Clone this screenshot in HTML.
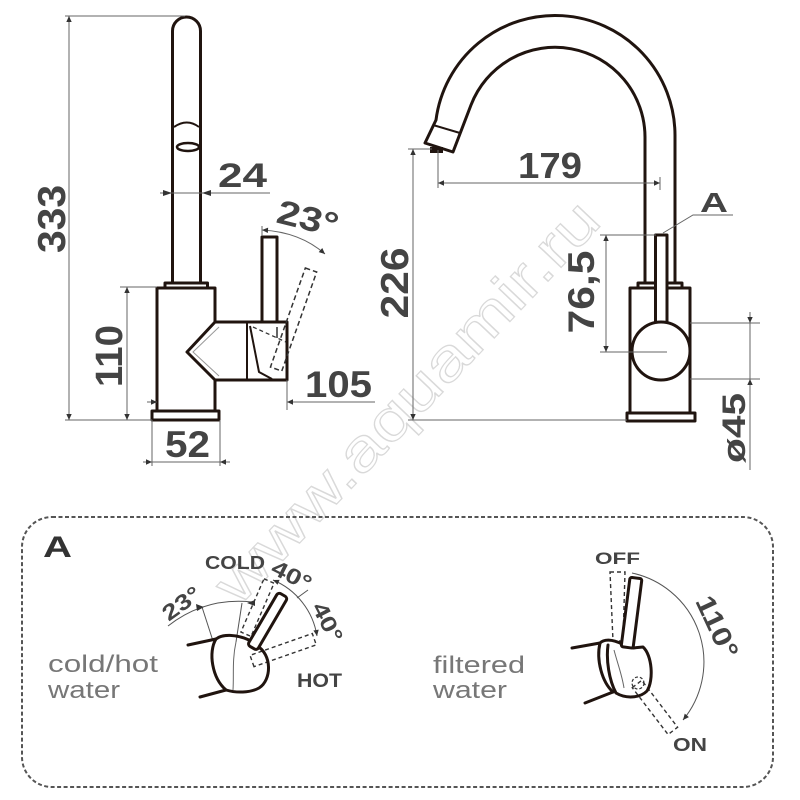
<!DOCTYPE html>
<html><head><meta charset="utf-8"><style>
html,body{margin:0;padding:0;background:#fff;}
svg{display:block;}
text{font-family:"Liberation Sans",sans-serif;}
</style></head><body>
<svg width="800" height="800" viewBox="0 0 800 800" xmlns="http://www.w3.org/2000/svg">
<defs>
<marker id="a" viewBox="0 0 10 10" refX="10" refY="5" markerWidth="9" markerHeight="6" orient="auto-start-reverse" markerUnits="userSpaceOnUse"><path d="M0,0.5 L10,5 L0,9.5z" fill="#333"/></marker>
</defs>
<rect width="800" height="800" fill="#fff"/>

<!-- watermark -->
<text transform="translate(410,405) rotate(-46.5)" text-anchor="middle" y="15" font-size="58" fill="none" stroke="#d9d9d9" stroke-width="1.2" textLength="530" lengthAdjust="spacingAndGlyphs">www.aquamir.ru</text>

<!-- ============ LEFT FAUCET ============ -->
<g fill="none" stroke="#20140f" stroke-width="3" stroke-linejoin="round">
 <path d="M172.5,283 V31 A14,14 0 0 1 200.5,31 V283"/>
 <path d="M165,288 V283 H207.5 V288"/>
 <path d="M157,411 V288 H215 V322 H287 V380 H215 V411"/>
 <rect x="152" y="411" width="67" height="9" fill="#fff"/>
 <rect x="262" y="237" width="15" height="85" fill="#fff"/>
 <path d="M215,322 L187,352 L215,380"/>
 <path d="M247,322 V380" stroke-width="2"/>
 <path d="M250,326 L259,372 L272,379" stroke-width="2"/>
 <path d="M174,127 Q187,118 199,127" stroke-width="2"/>
 <ellipse cx="188" cy="147" rx="11" ry="4" stroke-width="2.5"/>
</g>
<path d="M219,327 L193,352 L219,376" fill="none" stroke="#999" stroke-width="1"/>
<path d="M253,327 L286,342" fill="none" stroke="#333" stroke-width="1.3" stroke-dasharray="4 3"/>
<path d="M277,327 V338" stroke="#333" stroke-width="1.5"/>
<rect x="-6" y="0" width="12" height="105" transform="translate(311,270) rotate(19.4)" fill="none" stroke="#333" stroke-width="1.5" stroke-dasharray="5 3"/>

<!-- left dims -->
<g stroke="#666" stroke-width="1" fill="none">
 <line x1="65" y1="16" x2="185" y2="16"/>
 <line x1="65" y1="420" x2="152" y2="420"/>
 <line x1="69" y1="16" x2="69" y2="420" marker-start="url(#a)" marker-end="url(#a)"/>
 <line x1="120" y1="287" x2="157" y2="287"/>
 <line x1="127" y1="287" x2="127" y2="420" marker-start="url(#a)" marker-end="url(#a)"/>
 <line x1="160" y1="193" x2="270" y2="193"/>
 <line x1="147" y1="402" x2="157" y2="402" marker-end="url(#a)"/>
 <line x1="375" y1="402" x2="287" y2="402" marker-end="url(#a)"/>
 <line x1="287" y1="380" x2="287" y2="410"/>
 <line x1="152" y1="420" x2="152" y2="466"/>
 <line x1="220" y1="420" x2="220" y2="466"/>
 <line x1="143" y1="462" x2="152" y2="462" marker-end="url(#a)"/>
 <line x1="230" y1="462" x2="220" y2="462" marker-end="url(#a)"/>
 <line x1="152" y1="462" x2="220" y2="462"/>
 <path d="M262,230 Q300,232 325,254" marker-start="url(#a)" marker-end="url(#a)"/>
 <line x1="262" y1="226" x2="262" y2="236"/>
</g>
<polygon points="163,190 172,193 163,196" fill="#333"/>
<polygon points="211,190 202,193 211,196" fill="#333"/>

<g font-weight="bold" fill="#444">
 <text transform="translate(65,219) rotate(-90)" text-anchor="middle" font-size="39" textLength="68" lengthAdjust="spacingAndGlyphs">333</text>
 <text transform="translate(122,356) rotate(-90)" text-anchor="middle" font-size="38" textLength="62" lengthAdjust="spacingAndGlyphs">110</text>
 <text x="218" y="187" font-size="34" textLength="49" lengthAdjust="spacingAndGlyphs">24</text>
 <text x="305" y="397" font-size="37" textLength="67" lengthAdjust="spacingAndGlyphs">105</text>
 <text x="165" y="457" font-size="37" textLength="45" lengthAdjust="spacingAndGlyphs">52</text>
 <text transform="translate(308,218) rotate(14)" text-anchor="middle" y="12" font-size="34" textLength="62" lengthAdjust="spacingAndGlyphs">23°</text>
</g>

<!-- ============ RIGHT FAUCET ============ -->
<g fill="none" stroke="#20140f" stroke-width="3" stroke-linejoin="round">
 <path d="M675,284 V135 A120,120 0 0 0 436,120 L425,143 L453,152 L471,105 A90,90 0 0 1 645,137 V284"/>
 <path d="M638,288 V283 H682 V288"/>
 <rect x="630" y="288" width="60" height="125" fill="#fff"/>
 <rect x="627" y="413" width="68" height="8" fill="#fff"/>
 <rect x="655.5" y="235" width="11.5" height="88" fill="#fff"/>
 <circle cx="661" cy="351" r="29" fill="#fff"/>
 <path d="M433,125 L460,133" stroke-width="2"/>
</g>
<rect x="430" y="147" width="13" height="6" fill="#20140f"/>

<g stroke="#666" stroke-width="1" fill="none">
 <line x1="408" y1="149" x2="432" y2="149"/>
 <line x1="408" y1="420" x2="627" y2="420"/>
 <line x1="413" y1="149" x2="413" y2="420" marker-start="url(#a)" marker-end="url(#a)"/>
 <line x1="438" y1="150" x2="438" y2="188"/>
 <line x1="438" y1="183" x2="660" y2="183" marker-start="url(#a)" marker-end="url(#a)"/>
 <line x1="660" y1="177" x2="660" y2="190"/>
 <polyline points="663,233 693,215 733,215"/>
 <line x1="600" y1="235" x2="656" y2="235"/>
 <line x1="600" y1="352" x2="667" y2="352"/>
 <line x1="606" y1="235" x2="606" y2="352" marker-start="url(#a)" marker-end="url(#a)"/>
 <line x1="690" y1="323" x2="760" y2="323"/>
 <line x1="690" y1="379" x2="760" y2="379"/>
 <line x1="750" y1="312" x2="750" y2="323" marker-end="url(#a)"/>
 <line x1="750" y1="470" x2="750" y2="379" marker-end="url(#a)"/>
 <line x1="750" y1="323" x2="750" y2="379"/>
</g>

<g font-weight="bold" fill="#444">
 <text transform="translate(408,283) rotate(-90)" text-anchor="middle" font-size="39" textLength="71" lengthAdjust="spacingAndGlyphs">226</text>
 <text x="518" y="178" font-size="36" textLength="64" lengthAdjust="spacingAndGlyphs">179</text>
 <text x="700" y="212" font-size="28" textLength="28" lengthAdjust="spacingAndGlyphs">A</text>
 <text transform="translate(594,292) rotate(-90)" text-anchor="middle" font-size="37" textLength="83" lengthAdjust="spacingAndGlyphs">76,5</text>
 <text transform="translate(745,428) rotate(-90)" text-anchor="middle" font-size="32" textLength="70" lengthAdjust="spacingAndGlyphs">ø45</text>
</g>

<!-- ============ PANEL A ============ -->
<rect x="22" y="517" width="751" height="270" rx="30" ry="30" fill="none" stroke="#555" stroke-width="2" stroke-dasharray="4 2.5"/>

<text x="43" y="557" font-size="30" font-weight="bold" fill="#333" textLength="29" lengthAdjust="spacingAndGlyphs">A</text>

<g fill="#777" font-size="24">
 <text x="48" y="672" textLength="110" lengthAdjust="spacingAndGlyphs">cold/hot</text>
 <text x="48" y="698" textLength="72" lengthAdjust="spacingAndGlyphs">water</text>
 <text x="433" y="673" textLength="92" lengthAdjust="spacingAndGlyphs">filtered</text>
 <text x="433" y="698" textLength="74" lengthAdjust="spacingAndGlyphs">water</text>
</g>

<!-- left mixer detail -->
<g fill="none" stroke="#555" stroke-width="1">
 <path d="M168,626 Q205,597 252,602"/>
 <line x1="202" y1="607" x2="213" y2="641"/>
 <line x1="242" y1="603" x2="236" y2="642"/>
 <path d="M273,580 A73,73 0 0 1 317,636" marker-start="url(#a)" marker-end="url(#a)"/>
 <line x1="297" y1="598" x2="308" y2="590"/>
</g>
<polygon points="196,604 204,607 197,611" fill="#333"/>
<polygon points="255,600 247,603 255,606" fill="#333"/>
<rect x="-5.5" y="0" width="11" height="58" transform="translate(269,581) rotate(23.4)" fill="none" stroke="#333" stroke-width="1.4" stroke-dasharray="4 3"/>
<rect x="-6" y="0" width="12" height="66" transform="translate(252,661) rotate(-109.3)" fill="none" stroke="#333" stroke-width="1.4" stroke-dasharray="4 3"/>
<g fill="none" stroke="#20140f" stroke-width="3" stroke-linejoin="round" stroke-linecap="round">
 <path d="M188,645 L216,639"/>
 <path d="M200,697 L226,690"/>
 <path d="M216,639 C208,652 212,678 226,690"/>
 <path d="M216,639 C222,634 236,634 249,640 M257,646 C272,654 272,680 259,688 C250,693 236,693 226,690"/>
</g>
<path d="M236,642 C232,660 234,675 233,690" fill="none" stroke="#666" stroke-width="1"/>
<rect x="-5.5" y="0" width="11" height="61" rx="3" transform="translate(283,595) rotate(30.3)" fill="#fff" stroke="#20140f" stroke-width="3"/>

<g font-weight="bold" fill="#444">
 <text x="205" y="569" font-size="18" textLength="60" lengthAdjust="spacingAndGlyphs">COLD</text>
 <text transform="translate(292,575) rotate(27)" text-anchor="middle" y="8" font-size="22" textLength="42" lengthAdjust="spacingAndGlyphs">40°</text>
 <text transform="translate(328,622) rotate(63)" text-anchor="middle" y="8" font-size="22" textLength="42" lengthAdjust="spacingAndGlyphs">40°</text>
 <text transform="translate(181,603) rotate(-36)" text-anchor="middle" y="8" font-size="22" textLength="42" lengthAdjust="spacingAndGlyphs">23°</text>
 <text x="297" y="687" font-size="19" textLength="45" lengthAdjust="spacingAndGlyphs">HOT</text>
</g>

<!-- right filter detail -->
<path d="M632,573 A91,91 0 0 1 683,720" fill="none" stroke="#555" stroke-width="1" marker-end="url(#a)"/>
<polygon points="610,572 625,572 623,641 613,641" fill="none" stroke="#333" stroke-width="1.4" stroke-dasharray="4 3"/>
<rect x="-6" y="0" width="12" height="59" transform="translate(637,684) rotate(-37.4)" fill="none" stroke="#333" stroke-width="1.4" stroke-dasharray="4 3"/>
<circle cx="638" cy="683" r="6" fill="none" stroke="#333" stroke-width="1.2" stroke-dasharray="3 2"/>
<g fill="none" stroke="#20140f" stroke-width="3" stroke-linejoin="round" stroke-linecap="round">
 <path d="M572,648 L600,643"/>
 <path d="M585,703 L613,692"/>
 <path d="M600,643 C596,660 602,682 613,692"/>
 <path d="M600,643 C604,639 612,639 622,644 M633,648 L643,647 C652,655 654,680 647,691 C640,698 626,699 616,693 C609,680 606,660 608,645"/>
</g>
<path d="M614,650 C618,665 622,675 624,688" fill="none" stroke="#666" stroke-width="1"/>
<rect x="-6" y="0" width="12" height="70" rx="2" transform="translate(636,578) rotate(7.3)" fill="#fff" stroke="#20140f" stroke-width="3"/>

<g font-weight="bold" fill="#444">
 <text x="595" y="564" font-size="17" textLength="45" lengthAdjust="spacingAndGlyphs">OFF</text>
 <text x="673" y="751" font-size="18" textLength="34" lengthAdjust="spacingAndGlyphs">ON</text>
 <text transform="translate(717,627) rotate(65)" text-anchor="middle" y="9" font-size="27" textLength="66" lengthAdjust="spacingAndGlyphs">110°</text>
</g>
</svg>
</body></html>
